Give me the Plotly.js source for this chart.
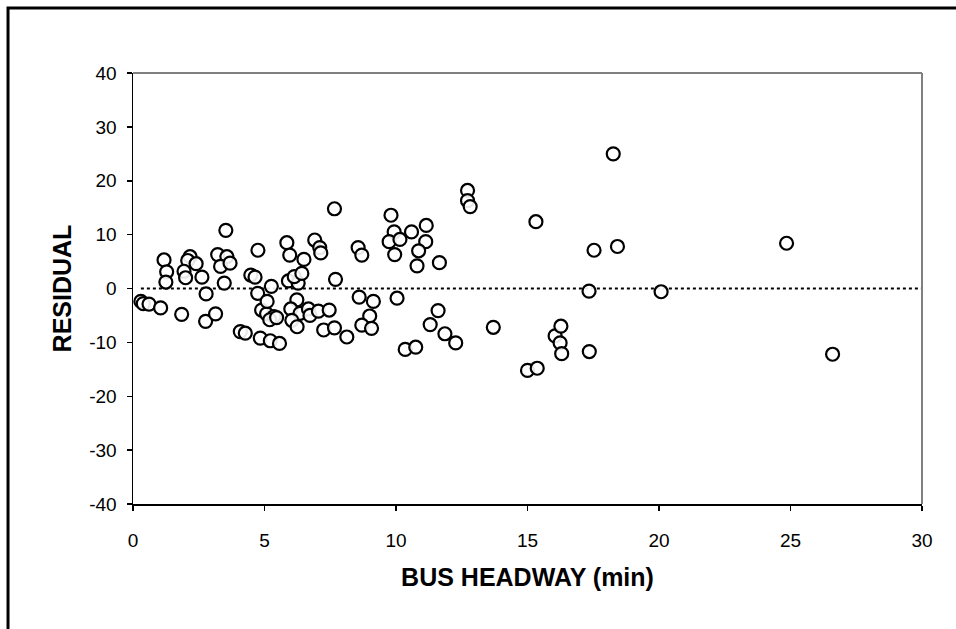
<!DOCTYPE html>
<html>
<head>
<meta charset="utf-8">
<script src="https://cdn.plot.ly/plotly-3.0.1.min.js"></script>
<style>html,body{margin:0;padding:0;background:#fff;}#chart{width:956px;height:629px;}</style>
</head>
<body>
<div id="chart"></div>
<script>
// Bus headway (min) vs residual
const headway = [
  0.30, 0.39, 0.61, 1.05, 1.85,
  1.18, 1.28, 1.25,
  2.17, 2.08, 2.40, 1.94, 2.00, 2.62,
  2.78, 2.76, 3.14,
  3.22, 3.57, 3.33, 3.69, 3.47, 3.53,
  4.08, 4.27, 4.48, 4.64, 4.75, 4.74, 4.84,
  4.89, 5.08, 5.36, 5.20, 5.46, 5.10, 5.26, 5.22, 5.57,
  5.85, 5.96, 5.91, 6.28, 6.13, 6.42, 6.50,
  6.91, 7.10, 7.14,
  6.23, 6.00, 6.35, 6.67, 6.73, 7.05, 7.46, 6.04, 6.24, 7.25, 7.66,
  7.66, 7.70, 8.13,
  8.56, 8.70, 8.60, 9.14, 9.00, 8.70, 9.07,
  9.81, 9.93, 9.74, 10.15, 10.59, 11.15, 11.13, 10.86, 9.95, 10.80, 11.65,
  10.04, 10.35, 10.75, 11.30, 11.60, 11.86, 12.27,
  12.72, 12.72, 12.82, 13.70,
  15.00, 15.37, 15.32,
  16.05, 16.27, 16.24, 16.30, 17.35, 17.34, 17.53, 18.26, 18.42, 20.08, 24.85, 26.60
];
const residual = [
  -2.4, -2.8, -2.9, -3.6, -4.8,
  5.3, 3.1, 1.2,
  5.9, 5.2, 4.6, 3.2, 2.0, 2.1,
  -1.0, -6.1, -4.7,
  6.3, 5.9, 4.1, 4.7, 1.0, 10.8,
  -8.0, -8.3, 2.5, 2.1, 7.1, -0.9, -9.2,
  -4.0, -4.7, -5.2, -5.8, -5.4, -2.4, 0.4, -9.7, -10.2,
  8.5, 6.2, 1.4, 1.0, 2.2, 2.8, 5.4,
  9.0, 7.6, 6.6,
  -2.1, -3.8, -4.6, -3.8, -5.0, -4.2, -4.0, -5.9, -7.1, -7.7, -7.3,
  14.8, 1.7, -9.0,
  7.6, 6.2, -1.6, -2.4, -5.1, -6.8, -7.4,
  13.6, 10.5, 8.7, 9.1, 10.5, 11.7, 8.7, 7.0, 6.3, 4.2, 4.8,
  -1.8, -11.3, -10.9, -6.7, -4.1, -8.4, -10.1,
  18.2, 16.3, 15.2, -7.2,
  -15.2, -14.8, 12.4,
  -8.8, -7.0, -10.1, -12.1, -11.7, -0.5, 7.1, 25.0, 7.8, -0.6, 8.4, -12.2
];
// zero reference line
const zeroX = [0.3, 30];
const zeroY = [0, 0];

const xTicks = [0, 5, 10, 15, 20, 25, 30];
const yTicks = [-40, -30, -20, -10, 0, 10, 20, 30, 40];

const traces = [
  {
    x: zeroX, y: zeroY, type: 'scatter', mode: 'lines',
    line: {color: '#000', width: 2, dash: 'dot'}, hoverinfo: 'skip'
  },
  {
    x: headway, y: residual, type: 'scatter', mode: 'markers',
    marker: {symbol: 'circle', size: 13, color: 'rgba(255,255,255,0.9)', line: {color: '#000', width: 2.2}}
  }
];

const fontFam = 'Arial, "Liberation Sans", sans-serif';
const layout = {
  width: 956, height: 629,
  margin: {l: 133, r: 34, t: 73, b: 125},
  paper_bgcolor: '#fff', plot_bgcolor: '#fff',
  showlegend: false,
  font: {family: fontFam, color: '#000'},
  xaxis: {
    range: [0, 30], tickvals: xTicks, ticktext: xTicks.map(String),
    showgrid: false, zeroline: false, showline: true, linecolor: '#000', linewidth: 1.5,
    ticks: 'outside', ticklen: 5, tickcolor: '#000', tickwidth: 1.5,
    ticklabelstandoff: 14,
    tickfont: {size: 19, family: fontFam},
    title: {text: '<b>BUS HEADWAY (min)</b>', font: {size: 25, family: fontFam}, standoff: 18}
  },
  yaxis: {
    range: [-40, 40], tickvals: yTicks, ticktext: yTicks.map(String),
    showgrid: false, zeroline: false, showline: true, linecolor: '#000', linewidth: 1.5,
    ticks: 'outside', ticklen: 5, tickcolor: '#000', tickwidth: 1.5,
    ticklabelstandoff: 6,
    tickfont: {size: 19, family: fontFam},
    title: {text: '<b>RESIDUAL</b>', font: {size: 25, family: fontFam}, standoff: 10}
  },
  shapes: [
    {type: 'line', xref: 'paper', yref: 'paper', x0: 0, x1: 1, y0: 1, y1: 1, line: {color: '#808080', width: 2}},
    {type: 'line', xref: 'paper', yref: 'paper', x0: 1, x1: 1, y0: 0, y1: 1, line: {color: '#808080', width: 2}},
    {type: 'rect', xref: 'paper', yref: 'paper', x0: -0.1584, x1: 2, y0: -1, y1: 1.1508, line: {color: '#000', width: 3}}
  ]
};

Plotly.newPlot('chart', traces, layout, {displayModeBar: false, staticPlot: true});
</script>
</body>
</html>
